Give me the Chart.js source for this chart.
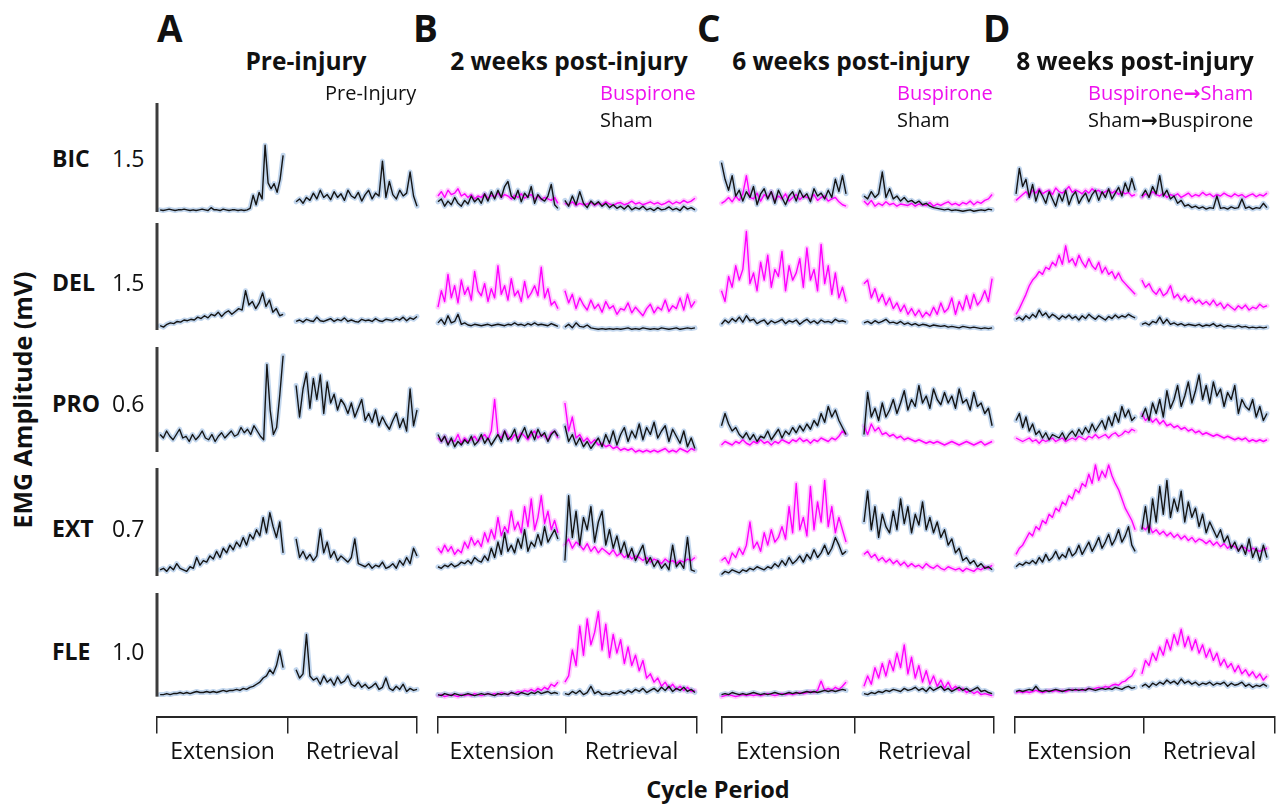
<!DOCTYPE html>
<html>
<head>
<meta charset="utf-8">
<script src="https://cdn.jsdelivr.net/npm/chart.js@4.4.1/dist/chart.umd.min.js"></script>
<style>
  html, body { margin: 0; padding: 0; background: #fff; }
  #fig { position: relative; width: 1281px; height: 807px; overflow: hidden;
         font-family: 'Open Sans', 'Noto Sans', sans-serif; color: #111; }
  #fig canvas { position: absolute; }
  .t { position: absolute; white-space: nowrap; line-height: 1; }
  .arrow { font-family: 'DejaVu Sans', sans-serif; font-weight: 700; }
</style>
</head>
<body>
<div id="fig"></div>
<script>
// ---------- labels ----------
const muscles = ['BIC', 'DEL', 'PRO', 'EXT', 'FLE'];
const scaleValues = [1.5, 1.5, 0.6, 0.7, 1.0];        // mV represented by each scale bar
const scaleLabels = ['1.5', '1.5', '0.6', '0.7', '1.0'];
const panelLetters = ['A', 'B', 'C', 'D'];
const panelTitles = ['Pre-injury', '2 weeks post-injury', '6 weeks post-injury', '8 weeks post-injury'];
const phaseLabels = ['Extension', 'Retrieval'];

// ---------- mean EMG traces (mV), extension then retrieval ----------
// Pre-injury
const pre_BIC_ext = [0.03,0.02,0.03,0.04,0.03,0.02,0.03,0.03,0.04,0.03,0.02,0.03,0.02,0.03,0.04,0.03,0.02,0.06,0.03,0.03,0.02,0.04,0.03,0.02,0.03,0.03,0.02,0.03,0.02,0.03,0.05,0.23,0.1,0.27,0.18,0.92,0.4,0.32,0.39,0.27,0.45,0.78];
const pre_BIC_ret = [0.14,0.18,0.12,0.2,0.16,0.26,0.18,0.3,0.2,0.24,0.17,0.28,0.2,0.25,0.16,0.3,0.22,0.19,0.27,0.15,0.24,0.3,0.18,0.26,0.22,0.7,0.2,0.42,0.24,0.18,0.3,0.22,0.26,0.55,0.22,0.08];
const pre_DEL_ext = [0.06,0.04,0.08,0.1,0.09,0.12,0.11,0.14,0.13,0.15,0.14,0.18,0.16,0.2,0.17,0.22,0.2,0.25,0.19,0.24,0.27,0.22,0.26,0.3,0.28,0.55,0.35,0.4,0.3,0.38,0.52,0.33,0.42,0.25,0.3,0.2,0.22];
const pre_DEL_ret = [0.12,0.14,0.11,0.15,0.13,0.12,0.18,0.13,0.12,0.14,0.16,0.12,0.15,0.13,0.17,0.12,0.14,0.12,0.11,0.15,0.13,0.14,0.12,0.16,0.13,0.12,0.15,0.14,0.13,0.16,0.14,0.18,0.13,0.17,0.15,0.19];
const pre_PRO_ext = [0.1,0.08,0.12,0.09,0.07,0.1,0.13,0.08,0.09,0.06,0.1,0.07,0.09,0.12,0.08,0.07,0.1,0.06,0.09,0.11,0.08,0.1,0.12,0.09,0.1,0.14,0.11,0.13,0.1,0.15,0.12,0.09,0.07,0.5,0.24,0.1,0.14,0.33,0.55];
const pre_PRO_ret = [0.38,0.2,0.36,0.45,0.25,0.42,0.3,0.44,0.22,0.4,0.28,0.33,0.24,0.3,0.27,0.22,0.28,0.2,0.25,0.3,0.18,0.22,0.17,0.24,0.15,0.2,0.16,0.13,0.18,0.22,0.14,0.19,0.12,0.36,0.15,0.24];
const pre_EXT_ext = [0.04,0.05,0.03,0.06,0.04,0.08,0.05,0.04,0.03,0.06,0.05,0.12,0.07,0.1,0.09,0.13,0.11,0.16,0.12,0.18,0.15,0.2,0.17,0.22,0.19,0.25,0.2,0.27,0.24,0.3,0.26,0.38,0.28,0.41,0.32,0.25,0.35,0.15];
const pre_EXT_ret = [0.24,0.12,0.16,0.11,0.14,0.1,0.13,0.3,0.15,0.22,0.12,0.16,0.1,0.13,0.11,0.09,0.12,0.24,0.08,0.07,0.06,0.08,0.05,0.07,0.06,0.09,0.05,0.06,0.08,0.05,0.1,0.07,0.12,0.08,0.18,0.13];
const pre_FLE_ext = [0.02,0.02,0.03,0.02,0.03,0.03,0.04,0.03,0.04,0.03,0.04,0.05,0.04,0.04,0.05,0.04,0.05,0.04,0.05,0.06,0.05,0.06,0.06,0.07,0.06,0.08,0.07,0.09,0.1,0.12,0.14,0.18,0.2,0.26,0.22,0.3,0.44,0.28];
const pre_FLE_ret = [0.26,0.18,0.22,0.6,0.2,0.16,0.18,0.12,0.2,0.14,0.17,0.11,0.19,0.13,0.15,0.2,0.12,0.1,0.14,0.09,0.12,0.08,0.1,0.13,0.07,0.09,0.18,0.08,0.06,0.1,0.07,0.12,0.05,0.08,0.06,0.07];

// 2 weeks post-injury
const wk2Busp_BIC_ext = [0.22,0.28,0.2,0.3,0.24,0.26,0.32,0.22,0.25,0.2,0.24,0.18,0.22,0.2,0.25,0.19,0.23,0.21,0.26,0.2,0.24,0.22,0.18,0.23,0.2,0.25,0.19,0.22,0.24,0.18,0.22,0.17,0.2,0.18,0.16,0.2,0.12];
const wk2Busp_BIC_ret = [0.12,0.1,0.14,0.09,0.12,0.1,0.11,0.13,0.09,0.12,0.1,0.14,0.11,0.09,0.12,0.13,0.1,0.12,0.15,0.11,0.13,0.1,0.12,0.14,0.11,0.13,0.1,0.12,0.15,0.11,0.14,0.12,0.16,0.13,0.15,0.19];
const wk2Sham_BIC_ext = [0.14,0.18,0.08,0.15,0.1,0.2,0.12,0.08,0.16,0.11,0.22,0.14,0.19,0.12,0.25,0.15,0.28,0.18,0.3,0.2,0.35,0.42,0.22,0.18,0.3,0.14,0.26,0.2,0.35,0.12,0.24,0.18,0.15,0.22,0.38,0.1,0.05];
const wk2Sham_BIC_ret = [0.16,0.08,0.22,0.1,0.28,0.12,0.06,0.15,0.1,0.14,0.08,0.12,0.06,0.1,0.05,0.08,0.04,0.09,0.03,0.06,0.04,0.08,0.03,0.05,0.02,0.06,0.03,0.04,0.07,0.03,0.05,0.02,0.08,0.04,0.06,0.03];
const wk2Busp_DEL_ext = [0.32,0.55,0.4,0.78,0.45,0.62,0.38,0.7,0.5,0.6,0.42,0.82,0.55,0.48,0.65,0.4,0.58,0.45,0.9,0.5,0.62,0.42,0.72,0.48,0.55,0.4,0.68,0.45,0.52,0.62,0.48,0.88,0.45,0.58,0.35,0.4,0.3];
const wk2Busp_DEL_ret = [0.55,0.38,0.5,0.3,0.45,0.35,0.28,0.42,0.3,0.36,0.25,0.4,0.3,0.34,0.22,0.3,0.28,0.38,0.24,0.32,0.26,0.2,0.3,0.36,0.24,0.32,0.28,0.42,0.26,0.34,0.3,0.45,0.28,0.5,0.32,0.4];
const wk2Sham_DEL_ext = [0.1,0.15,0.08,0.2,0.1,0.12,0.22,0.08,0.1,0.07,0.06,0.08,0.07,0.06,0.07,0.08,0.06,0.07,0.08,0.07,0.06,0.08,0.07,0.1,0.07,0.08,0.06,0.09,0.07,0.1,0.07,0.08,0.07,0.06,0.09,0.07,0.05];
const wk2Sham_DEL_ret = [0.04,0.08,0.03,0.1,0.05,0.04,0.07,0.03,0.02,0.01,0.02,0.01,0.02,0.01,0.02,0.01,0.02,0.03,0.01,0.02,0.01,0.03,0.02,0.01,0.02,0.01,0.03,0.02,0.01,0.02,0.03,0.01,0.02,0.03,0.02,0.03];
const wk2Busp_PRO_ext = [0.08,0.06,0.09,0.05,0.07,0.06,0.1,0.05,0.08,0.06,0.07,0.09,0.06,0.08,0.1,0.07,0.12,0.3,0.1,0.08,0.12,0.09,0.07,0.1,0.08,0.11,0.09,0.07,0.1,0.12,0.08,0.1,0.09,0.07,0.11,0.12,0.08];
const wk2Busp_PRO_ret = [0.28,0.12,0.2,0.08,0.1,0.06,0.08,0.05,0.07,0.04,0.05,0.03,0.04,0.02,0.03,0.01,0.02,0.01,0.02,0.0,0.01,0.0,0.01,0.0,0.01,0.0,0.01,0.02,0.0,0.01,0.0,0.02,0.01,0.0,0.02,0.01];
const wk2Sham_PRO_ext = [0.1,0.06,0.09,0.04,0.08,0.03,0.06,0.04,0.07,0.05,0.09,0.04,0.06,0.1,0.05,0.08,0.04,0.07,0.1,0.06,0.12,0.07,0.09,0.13,0.06,0.1,0.14,0.08,0.12,0.07,0.13,0.09,0.11,0.06,0.1,0.12,0.09];
const wk2Sham_PRO_ret = [0.15,0.06,0.1,0.04,0.08,0.03,0.06,0.02,0.05,0.08,0.03,0.1,0.05,0.12,0.04,0.1,0.14,0.06,0.12,0.08,0.16,0.07,0.14,0.1,0.17,0.08,0.12,0.15,0.06,0.13,0.09,0.05,0.12,0.03,0.08,0.02];
const wk2Busp_EXT_ext = [0.18,0.15,0.2,0.16,0.19,0.14,0.17,0.15,0.22,0.18,0.25,0.2,0.23,0.19,0.28,0.22,0.3,0.24,0.38,0.26,0.32,0.28,0.42,0.3,0.35,0.28,0.45,0.32,0.5,0.3,0.38,0.52,0.34,0.42,0.3,0.36,0.28];
const wk2Busp_EXT_ret = [0.2,0.24,0.18,0.22,0.2,0.17,0.21,0.16,0.19,0.15,0.18,0.16,0.14,0.17,0.13,0.15,0.12,0.14,0.11,0.13,0.12,0.1,0.12,0.09,0.11,0.1,0.08,0.11,0.09,0.1,0.08,0.1,0.09,0.11,0.1,0.12];
const wk2Sham_EXT_ext = [0.06,0.05,0.07,0.06,0.08,0.06,0.07,0.09,0.08,0.1,0.08,0.12,0.1,0.09,0.13,0.1,0.18,0.12,0.22,0.14,0.28,0.16,0.2,0.15,0.24,0.18,0.3,0.16,0.22,0.19,0.27,0.2,0.32,0.22,0.26,0.3,0.24];
const wk2Sham_EXT_ret = [0.1,0.52,0.25,0.42,0.2,0.38,0.3,0.45,0.22,0.35,0.42,0.2,0.3,0.18,0.26,0.15,0.22,0.12,0.18,0.1,0.15,0.2,0.08,0.12,0.06,0.1,0.05,0.08,0.04,0.2,0.06,0.09,0.05,0.25,0.04,0.03];
const wk2Busp_FLE_ext = [0.01,0.02,0.0,0.01,0.02,0.01,0.0,0.02,0.01,0.02,0.01,0.03,0.02,0.01,0.02,0.03,0.02,0.03,0.02,0.04,0.03,0.02,0.04,0.03,0.05,0.04,0.06,0.05,0.07,0.05,0.08,0.06,0.09,0.07,0.12,0.1,0.14];
const wk2Busp_FLE_ret = [0.14,0.2,0.45,0.3,0.68,0.4,0.75,0.5,0.62,0.82,0.45,0.7,0.38,0.6,0.42,0.55,0.32,0.48,0.3,0.4,0.25,0.35,0.18,0.22,0.14,0.18,0.1,0.14,0.08,0.12,0.07,0.1,0.06,0.09,0.05,0.06];
const wk2Sham_FLE_ext = [0.02,0.01,0.03,0.02,0.01,0.03,0.02,0.01,0.02,0.03,0.02,0.01,0.02,0.03,0.02,0.03,0.02,0.01,0.03,0.02,0.03,0.02,0.04,0.03,0.02,0.04,0.03,0.02,0.04,0.03,0.05,0.03,0.04,0.05,0.03,0.04,0.03];
const wk2Sham_FLE_ret = [0.03,0.02,0.05,0.03,0.06,0.02,0.04,0.1,0.03,0.05,0.02,0.03,0.02,0.04,0.03,0.05,0.03,0.06,0.04,0.07,0.05,0.08,0.04,0.06,0.08,0.05,0.09,0.06,0.1,0.05,0.08,0.06,0.09,0.05,0.07,0.04];

// 6 weeks post-injury
const wk6Busp_BIC_ext = [0.18,0.12,0.15,0.2,0.14,0.22,0.16,0.25,0.5,0.2,0.18,0.26,0.15,0.24,0.2,0.28,0.16,0.22,0.18,0.25,0.15,0.2,0.24,0.17,0.22,0.2,0.18,0.24,0.16,0.2,0.22,0.15,0.18,0.2,0.14,0.1,0.08];
const wk6Busp_BIC_ret = [0.15,0.1,0.16,0.08,0.12,0.09,0.14,0.1,0.12,0.08,0.11,0.1,0.09,0.12,0.08,0.11,0.1,0.09,0.13,0.08,0.11,0.09,0.12,0.14,0.1,0.12,0.09,0.13,0.11,0.15,0.1,0.14,0.12,0.16,0.18,0.24];
const wk6Sham_BIC_ext = [0.2,0.68,0.45,0.3,0.5,0.22,0.3,0.15,0.28,0.2,0.35,0.1,0.25,0.32,0.18,0.28,0.12,0.3,0.2,0.1,0.22,0.28,0.15,0.3,0.2,0.25,0.14,0.32,0.22,0.26,0.18,0.3,0.2,0.45,0.28,0.5,0.25];
const wk6Sham_BIC_ret = [0.22,0.18,0.28,0.2,0.25,0.55,0.2,0.32,0.18,0.22,0.15,0.2,0.14,0.16,0.12,0.15,0.1,0.12,0.08,0.06,0.05,0.04,0.03,0.04,0.02,0.03,0.02,0.01,0.02,0.03,0.01,0.02,0.03,0.02,0.04,0.03];
const wk6Busp_DEL_ext = [0.25,0.55,0.4,0.75,0.6,0.9,0.7,0.85,1.38,0.65,0.8,0.55,0.95,0.7,1.05,0.6,0.85,0.75,1.1,0.55,0.9,0.7,0.8,1.0,0.6,1.15,0.7,0.85,0.55,1.2,0.65,0.9,0.5,0.8,0.45,0.6,0.4];
const wk6Busp_DEL_ret = [0.65,0.7,0.45,0.58,0.4,0.5,0.35,0.45,0.3,0.38,0.26,0.35,0.22,0.3,0.2,0.28,0.18,0.25,0.2,0.32,0.22,0.38,0.25,0.3,0.45,0.22,0.4,0.28,0.48,0.3,0.5,0.35,0.42,0.55,0.4,0.72];
const wk6Sham_DEL_ext = [0.12,0.08,0.14,0.1,0.16,0.12,0.18,0.11,0.2,0.13,0.15,0.09,0.12,0.14,0.08,0.13,0.1,0.12,0.15,0.09,0.13,0.11,0.14,0.08,0.12,0.15,0.1,0.13,0.09,0.14,0.11,0.12,0.1,0.15,0.12,0.13,0.11];
const wk6Sham_DEL_ret = [0.1,0.12,0.09,0.13,0.1,0.12,0.15,0.1,0.11,0.09,0.12,0.08,0.1,0.07,0.09,0.06,0.08,0.07,0.05,0.07,0.06,0.05,0.06,0.04,0.05,0.04,0.03,0.05,0.04,0.03,0.04,0.03,0.02,0.03,0.02,0.03];
const wk6Busp_PRO_ext = [0.05,0.04,0.06,0.05,0.04,0.06,0.05,0.07,0.05,0.04,0.06,0.05,0.07,0.05,0.06,0.04,0.06,0.05,0.07,0.06,0.05,0.07,0.06,0.08,0.06,0.07,0.05,0.07,0.06,0.08,0.07,0.06,0.08,0.07,0.09,0.12,0.1];
const wk6Busp_PRO_ret = [0.15,0.1,0.16,0.12,0.14,0.1,0.11,0.09,0.1,0.08,0.09,0.07,0.08,0.07,0.06,0.07,0.06,0.05,0.06,0.05,0.06,0.05,0.04,0.05,0.06,0.05,0.04,0.05,0.06,0.05,0.04,0.05,0.06,0.04,0.05,0.06];
const wk6Sham_PRO_ext = [0.2,0.15,0.22,0.16,0.12,0.14,0.1,0.08,0.11,0.07,0.1,0.06,0.09,0.08,0.12,0.07,0.1,0.13,0.08,0.12,0.1,0.14,0.11,0.15,0.12,0.16,0.13,0.18,0.15,0.22,0.17,0.26,0.2,0.24,0.18,0.14,0.1];
const wk6Sham_PRO_ret = [0.1,0.34,0.2,0.25,0.18,0.28,0.2,0.24,0.3,0.22,0.28,0.35,0.24,0.3,0.26,0.38,0.28,0.32,0.25,0.36,0.3,0.27,0.34,0.28,0.32,0.25,0.36,0.28,0.3,0.24,0.34,0.26,0.28,0.22,0.25,0.15];
const wk6Busp_EXT_ext = [0.04,0.1,0.12,0.08,0.15,0.12,0.18,0.14,0.2,0.35,0.18,0.22,0.16,0.28,0.2,0.3,0.22,0.25,0.32,0.24,0.45,0.28,0.6,0.3,0.38,0.26,0.58,0.3,0.48,0.35,0.62,0.32,0.45,0.28,0.38,0.3,0.22];
const wk6Busp_EXT_ret = [0.14,0.16,0.12,0.14,0.1,0.12,0.09,0.11,0.08,0.1,0.07,0.09,0.06,0.08,0.06,0.07,0.05,0.08,0.06,0.05,0.07,0.05,0.04,0.06,0.05,0.04,0.05,0.03,0.05,0.04,0.03,0.05,0.04,0.06,0.05,0.07];
const wk6Sham_EXT_ext = [0.02,0.01,0.03,0.02,0.04,0.03,0.02,0.04,0.03,0.05,0.04,0.06,0.05,0.04,0.06,0.05,0.08,0.06,0.1,0.07,0.12,0.08,0.1,0.13,0.09,0.14,0.11,0.17,0.12,0.15,0.2,0.14,0.18,0.25,0.2,0.14,0.16];
const wk6Sham_EXT_ret = [0.35,0.55,0.3,0.45,0.25,0.4,0.32,0.28,0.42,0.3,0.5,0.34,0.45,0.28,0.4,0.33,0.48,0.3,0.38,0.28,0.35,0.25,0.3,0.2,0.24,0.15,0.18,0.1,0.12,0.08,0.1,0.06,0.08,0.05,0.06,0.04];
const wk6Busp_FLE_ext = [0.01,0.0,0.01,0.02,0.01,0.0,0.01,0.02,0.01,0.02,0.01,0.02,0.01,0.02,0.03,0.02,0.01,0.02,0.03,0.02,0.03,0.02,0.03,0.04,0.03,0.04,0.05,0.04,0.06,0.15,0.06,0.08,0.06,0.09,0.07,0.1,0.14];
const wk6Busp_FLE_ret = [0.1,0.2,0.12,0.28,0.18,0.32,0.2,0.35,0.25,0.42,0.28,0.5,0.22,0.38,0.18,0.3,0.14,0.25,0.12,0.2,0.1,0.16,0.08,0.14,0.07,0.1,0.06,0.08,0.04,0.06,0.03,0.05,0.02,0.03,0.02,0.01];
const wk6Sham_FLE_ext = [0.03,0.02,0.03,0.02,0.04,0.03,0.02,0.03,0.02,0.03,0.04,0.03,0.02,0.03,0.02,0.03,0.04,0.03,0.02,0.03,0.04,0.03,0.04,0.03,0.04,0.05,0.04,0.05,0.04,0.05,0.06,0.05,0.06,0.05,0.06,0.07,0.06];
const wk6Sham_FLE_ret = [0.03,0.02,0.04,0.03,0.05,0.04,0.06,0.05,0.07,0.06,0.05,0.08,0.06,0.07,0.09,0.06,0.08,0.05,0.09,0.06,0.08,0.1,0.06,0.08,0.05,0.07,0.09,0.06,0.08,0.05,0.07,0.09,0.05,0.06,0.04,0.03];

// 8 weeks post-injury (groups crossed over)
const wk8BuspSham_BIC_ext = [0.16,0.2,0.24,0.28,0.22,0.3,0.26,0.32,0.25,0.28,0.3,0.24,0.33,0.28,0.26,0.3,0.35,0.27,0.3,0.28,0.25,0.3,0.26,0.32,0.28,0.3,0.25,0.28,0.3,0.26,0.29,0.24,0.28,0.25,0.27,0.22,0.24];
const wk8BuspSham_BIC_ret = [0.2,0.25,0.22,0.28,0.24,0.22,0.26,0.2,0.24,0.22,0.25,0.2,0.23,0.26,0.21,0.24,0.22,0.27,0.23,0.25,0.21,0.24,0.22,0.26,0.23,0.21,0.25,0.22,0.24,0.2,0.23,0.25,0.21,0.24,0.22,0.26];
const wk8ShamBusp_BIC_ext = [0.25,0.6,0.35,0.45,0.2,0.38,0.15,0.3,0.22,0.12,0.28,0.18,0.08,0.25,0.15,0.3,0.1,0.22,0.28,0.12,0.2,0.26,0.14,0.24,0.3,0.16,0.28,0.2,0.32,0.18,0.26,0.34,0.22,0.4,0.28,0.46,0.3];
const wk8ShamBusp_BIC_ret = [0.22,0.3,0.2,0.35,0.25,0.5,0.22,0.3,0.18,0.22,0.12,0.16,0.08,0.1,0.06,0.08,0.05,0.07,0.04,0.06,0.05,0.22,0.05,0.06,0.04,0.07,0.05,0.06,0.18,0.05,0.07,0.04,0.06,0.05,0.12,0.06];
const wk8BuspSham_DEL_ext = [0.22,0.3,0.4,0.5,0.62,0.7,0.75,0.82,0.78,0.88,0.85,0.95,0.9,1.05,0.92,1.18,0.95,1.0,0.9,1.05,0.95,0.88,1.0,0.9,0.85,0.95,0.8,0.88,0.78,0.82,0.72,0.8,0.7,0.65,0.6,0.55,0.5];
const wk8BuspSham_DEL_ret = [0.7,0.6,0.65,0.55,0.5,0.58,0.48,0.52,0.62,0.45,0.5,0.42,0.48,0.4,0.45,0.38,0.42,0.36,0.4,0.35,0.42,0.34,0.38,0.3,0.36,0.32,0.28,0.34,0.3,0.35,0.28,0.32,0.3,0.36,0.32,0.34];
const wk8ShamBusp_DEL_ext = [0.15,0.18,0.14,0.2,0.16,0.22,0.18,0.28,0.2,0.24,0.17,0.22,0.19,0.15,0.2,0.17,0.21,0.16,0.19,0.14,0.2,0.16,0.22,0.18,0.15,0.2,0.17,0.14,0.19,0.16,0.21,0.17,0.2,0.18,0.22,0.19,0.17];
const wk8ShamBusp_DEL_ret = [0.08,0.1,0.07,0.12,0.1,0.18,0.09,0.15,0.08,0.1,0.07,0.09,0.06,0.08,0.07,0.06,0.08,0.05,0.07,0.06,0.09,0.05,0.07,0.04,0.06,0.05,0.04,0.06,0.04,0.05,0.03,0.04,0.03,0.04,0.03,0.04];
const wk8BuspSham_PRO_ext = [0.08,0.07,0.06,0.07,0.08,0.06,0.07,0.05,0.07,0.06,0.07,0.08,0.06,0.07,0.08,0.06,0.07,0.08,0.07,0.09,0.08,0.07,0.09,0.08,0.1,0.08,0.09,0.1,0.08,0.1,0.11,0.09,0.1,0.12,0.11,0.13,0.12];
const wk8BuspSham_PRO_ret = [0.22,0.18,0.2,0.17,0.19,0.16,0.18,0.15,0.16,0.14,0.15,0.13,0.14,0.12,0.13,0.11,0.12,0.1,0.11,0.1,0.09,0.1,0.09,0.08,0.09,0.08,0.07,0.08,0.07,0.08,0.06,0.07,0.06,0.07,0.06,0.07];
const wk8ShamBusp_PRO_ext = [0.18,0.22,0.14,0.2,0.12,0.16,0.1,0.12,0.08,0.11,0.07,0.1,0.09,0.08,0.11,0.07,0.1,0.12,0.09,0.13,0.1,0.14,0.11,0.16,0.12,0.15,0.18,0.13,0.2,0.15,0.22,0.17,0.26,0.2,0.24,0.18,0.2];
const wk8ShamBusp_PRO_ret = [0.2,0.25,0.18,0.28,0.22,0.3,0.2,0.35,0.25,0.3,0.38,0.26,0.32,0.4,0.28,0.35,0.44,0.3,0.38,0.28,0.4,0.32,0.36,0.26,0.34,0.3,0.38,0.22,0.3,0.26,0.24,0.3,0.2,0.26,0.18,0.22];
const wk8BuspSham_EXT_ext = [0.14,0.18,0.2,0.24,0.28,0.26,0.32,0.3,0.36,0.34,0.4,0.38,0.44,0.42,0.48,0.46,0.52,0.5,0.56,0.54,0.6,0.58,0.66,0.6,0.72,0.62,0.68,0.64,0.72,0.65,0.6,0.56,0.5,0.44,0.4,0.36,0.3];
const wk8BuspSham_EXT_ret = [0.32,0.3,0.33,0.28,0.3,0.27,0.29,0.26,0.28,0.25,0.27,0.24,0.26,0.23,0.25,0.22,0.24,0.23,0.21,0.23,0.2,0.22,0.19,0.21,0.18,0.2,0.19,0.17,0.19,0.18,0.16,0.18,0.17,0.16,0.17,0.18];
const wk8ShamBusp_EXT_ext = [0.06,0.08,0.07,0.09,0.08,0.1,0.08,0.12,0.09,0.14,0.1,0.12,0.16,0.11,0.14,0.12,0.18,0.13,0.15,0.2,0.14,0.18,0.22,0.16,0.2,0.25,0.18,0.22,0.27,0.2,0.24,0.3,0.22,0.26,0.32,0.2,0.16];
const wk8ShamBusp_EXT_ret = [0.3,0.45,0.28,0.5,0.35,0.58,0.4,0.62,0.38,0.5,0.42,0.55,0.35,0.48,0.38,0.44,0.32,0.4,0.28,0.35,0.3,0.25,0.3,0.22,0.26,0.18,0.22,0.16,0.2,0.14,0.24,0.12,0.18,0.1,0.2,0.12];
const wk8BuspSham_FLE_ext = [0.04,0.05,0.04,0.05,0.04,0.05,0.06,0.05,0.04,0.05,0.06,0.05,0.06,0.05,0.06,0.05,0.06,0.07,0.06,0.07,0.06,0.07,0.08,0.07,0.08,0.09,0.08,0.1,0.09,0.11,0.12,0.11,0.14,0.15,0.18,0.2,0.26];
const wk8BuspSham_FLE_ret = [0.22,0.35,0.3,0.42,0.35,0.48,0.4,0.55,0.45,0.6,0.5,0.65,0.48,0.58,0.45,0.55,0.42,0.5,0.38,0.46,0.35,0.42,0.3,0.36,0.28,0.32,0.24,0.3,0.22,0.26,0.2,0.24,0.18,0.22,0.16,0.2];
const wk8ShamBusp_FLE_ext = [0.05,0.06,0.05,0.06,0.07,0.06,0.1,0.06,0.05,0.06,0.05,0.06,0.07,0.06,0.05,0.06,0.07,0.06,0.07,0.06,0.07,0.06,0.08,0.07,0.06,0.07,0.08,0.07,0.08,0.07,0.09,0.08,0.07,0.09,0.1,0.08,0.09];
const wk8ShamBusp_FLE_ret = [0.1,0.12,0.09,0.13,0.11,0.14,0.12,0.16,0.13,0.15,0.12,0.17,0.13,0.15,0.12,0.14,0.11,0.13,0.12,0.14,0.11,0.13,0.12,0.14,0.1,0.13,0.11,0.12,0.14,0.1,0.12,0.09,0.11,0.1,0.12,0.1];

// ---------- styling ----------
const BLACK = '#151515';
const MAGENTA = '#ff00ff';
const BLUE_BAND = 'rgba(120,165,215,0.45)';
const PINK_BAND = 'rgba(255,90,255,0.30)';
const FONT = "'Open Sans', 'Noto Sans', sans-serif";

// ---------- trace table built from the arrays above ----------
const magentaGroup = (label, rows) => ({ label, color: MAGENTA, band: PINK_BAND, rows });
const blackGroup = (label, rows) => ({ label, color: BLACK, band: BLUE_BAND, rows });
const columnGroups = [
  [blackGroup('Pre-Injury', [[pre_BIC_ext, pre_BIC_ret], [pre_DEL_ext, pre_DEL_ret], [pre_PRO_ext, pre_PRO_ret], [pre_EXT_ext, pre_EXT_ret], [pre_FLE_ext, pre_FLE_ret]])],
  [magentaGroup('Buspirone', [[wk2Busp_BIC_ext, wk2Busp_BIC_ret], [wk2Busp_DEL_ext, wk2Busp_DEL_ret], [wk2Busp_PRO_ext, wk2Busp_PRO_ret], [wk2Busp_EXT_ext, wk2Busp_EXT_ret], [wk2Busp_FLE_ext, wk2Busp_FLE_ret]]),
   blackGroup('Sham', [[wk2Sham_BIC_ext, wk2Sham_BIC_ret], [wk2Sham_DEL_ext, wk2Sham_DEL_ret], [wk2Sham_PRO_ext, wk2Sham_PRO_ret], [wk2Sham_EXT_ext, wk2Sham_EXT_ret], [wk2Sham_FLE_ext, wk2Sham_FLE_ret]])],
  [magentaGroup('Buspirone', [[wk6Busp_BIC_ext, wk6Busp_BIC_ret], [wk6Busp_DEL_ext, wk6Busp_DEL_ret], [wk6Busp_PRO_ext, wk6Busp_PRO_ret], [wk6Busp_EXT_ext, wk6Busp_EXT_ret], [wk6Busp_FLE_ext, wk6Busp_FLE_ret]]),
   blackGroup('Sham', [[wk6Sham_BIC_ext, wk6Sham_BIC_ret], [wk6Sham_DEL_ext, wk6Sham_DEL_ret], [wk6Sham_PRO_ext, wk6Sham_PRO_ret], [wk6Sham_EXT_ext, wk6Sham_EXT_ret], [wk6Sham_FLE_ext, wk6Sham_FLE_ret]])],
  [magentaGroup('Buspirone→Sham', [[wk8BuspSham_BIC_ext, wk8BuspSham_BIC_ret], [wk8BuspSham_DEL_ext, wk8BuspSham_DEL_ret], [wk8BuspSham_PRO_ext, wk8BuspSham_PRO_ret], [wk8BuspSham_EXT_ext, wk8BuspSham_EXT_ret], [wk8BuspSham_FLE_ext, wk8BuspSham_FLE_ret]]),
   blackGroup('Sham→Buspirone', [[wk8ShamBusp_BIC_ext, wk8ShamBusp_BIC_ret], [wk8ShamBusp_DEL_ext, wk8ShamBusp_DEL_ret], [wk8ShamBusp_PRO_ext, wk8ShamBusp_PRO_ret], [wk8ShamBusp_EXT_ext, wk8ShamBusp_EXT_ret], [wk8ShamBusp_FLE_ext, wk8ShamBusp_FLE_ret]])]
];

// ---------- page layout (pixels) ----------
const COL_X = [[157, 417], [438, 697], [722, 994], [1015, 1275]];          // plot area left/right per column
const ROW_Y = [[103, 212], [223, 330], [347, 452], [468, 576], [593, 703]]; // scale-bar top/bottom per row
const BRACKET_Y = 725;
// where each phase sits along the cycle axis (0-100) in each column
const PHASE_SPAN = [
  { ext: [1.2, 48.5], ret: [53.5, 100], mid: 50.4 },
  { ext: [0, 46.3], ret: [49.0, 99.2], mid: 49.4 },
  { ext: [-1.5, 45.6], ret: [52.2, 99.3], mid: 48.9 },
  { ext: [0.4, 46.2], ret: [48.8, 96.9], mid: 49.6 }
];
const ROW_LABEL_Y = [158, 282, 403, 528, 651];
const LEGEND_X = [325, 600, 897, 1088];
const TITLE_CX = [306, 569, 851, 1135];
const LETTER_X = [157, 413, 697, 983];

const fig = document.getElementById('fig');
Chart.defaults.font.family = FONT;

function addText(html, x, cy, o = {}) {
  const d = document.createElement('div');
  d.className = 't';
  d.innerHTML = html;
  d.style.left = x + 'px';
  d.style.top = cy + 'px';
  d.style.fontSize = (o.size || 20) + 'px';
  d.style.fontWeight = o.weight || 400;
  d.style.color = o.color || '#111';
  const tx = o.align === 'center' ? '-50%' : (o.align === 'right' ? '-100%' : '0');
  d.style.transform = `translate(${tx}, -50%)` + (o.rotate ? ` rotate(${o.rotate}deg)` : '');
  fig.appendChild(d);
  return d;
}

// scale bar drawn against the row's own y scale
const scaleBarPlugin = {
  id: 'scaleBar',
  afterDatasetsDraw(chart, args, opts) {
    if (!opts.show) return;
    const y = chart.scales.y;
    const ctx = chart.ctx;
    ctx.save();
    ctx.strokeStyle = '#3c3c3c';
    ctx.lineWidth = 3;
    ctx.beginPath();
    ctx.moveTo(chart.chartArea.left, y.getPixelForValue(0));
    ctx.lineTo(chart.chartArea.left, y.getPixelForValue(opts.value));
    ctx.stroke();
    ctx.restore();
  }
};

function phasePoints(values, span) {
  const [a, b] = span;
  return values.map((v, i) => ({ x: a + (b - a) * i / (values.length - 1), y: v }));
}

function makeCell(c, r) {
  const [x0, x1] = COL_X[c];
  const [b0, b1] = ROW_Y[r];
  const bottomRow = r === muscles.length - 1;
  const pad = { left: 12, right: 12, top: 26, bottom: bottomRow ? 2 : 26 };
  const areaBottom = bottomRow ? BRACKET_Y : b1;
  const tickFont = 23;
  const tickPad = -3;
  const axesH = bottomRow ? 16 + tickFont * 1.2 + 2 * tickPad : 0;
  const w = x1 - x0 + pad.left + pad.right;
  const h = Math.round(areaBottom - b0 + pad.top + pad.bottom + axesH);
  const canvas = document.createElement('canvas');
  canvas.width = w; canvas.height = h;
  canvas.style.left = (x0 - pad.left) + 'px';
  canvas.style.top = (b0 - pad.top) + 'px';
  canvas.style.width = w + 'px'; canvas.style.height = h + 'px';
  fig.appendChild(canvas);

  const unitsPerPx = scaleValues[r] / (b1 - b0);
  const span = PHASE_SPAN[c];
  const datasets = [];
  const groups = columnGroups[c];
  // black traces sit on top of magenta ones; bands sit underneath both
  groups.forEach(g => {
    const top = g.color === BLACK ? 0 : 1;
    [['ext', 0], ['ret', 1]].forEach(([ph, k]) => {
      const pts = phasePoints(g.rows[r][k], span[ph]);
      datasets.push({ data: pts, borderColor: g.color, borderWidth: 1.4, order: top,
                      pointRadius: 0, tension: 0, clip: false, borderJoinStyle: 'round' });
      datasets.push({ data: pts, borderColor: g.band, borderWidth: 5, order: 2 + top,
                      pointRadius: 0, tension: 0, clip: false, borderJoinStyle: 'round', borderCapStyle: 'round' });
    });
  });

  const scales = {
    x: {
      type: 'linear', min: 0, max: 100, display: bottomRow, weight: 0,
      afterBuildTicks: s => { s.ticks = [0, span.mid, 100].map(v => ({ value: v })); },
      ticks: { display: false },
      grid: { display: true, drawOnChartArea: false, drawTicks: true, tickLength: 16, color: '#262626', lineWidth: 1.5 },
      border: { display: true, color: '#262626', width: 2 }
    },
    y: { type: 'linear', display: false, min: -(areaBottom - b1) * unitsPerPx, max: scaleValues[r] }
  };
  if (bottomRow) {
    scales.x2 = {
      type: 'linear', axis: 'x', position: 'bottom', min: 0, max: 100, weight: 1,
      afterBuildTicks: s => { s.ticks = [span.mid / 2, (span.mid + 100) / 2].map(v => ({ value: v })); },
      ticks: { display: true, autoSkip: false, maxRotation: 0, padding: tickPad, color: '#111',
               font: { size: tickFont, family: FONT }, callback: (v, i) => phaseLabels[i] },
      grid: { display: false },
      border: { display: false }
    };
  }

  new Chart(canvas, {
    type: 'line',
    data: { datasets },
    options: {
      responsive: false, animation: false, events: [], devicePixelRatio: 1,
      layout: { padding: pad },
      plugins: { legend: { display: false }, tooltip: { enabled: false },
                 scaleBar: { show: c === 0, value: scaleValues[r] } },
      scales
    },
    plugins: [scaleBarPlugin]
  });
}

for (let c = 0; c < panelLetters.length; c++) {
  for (let r = 0; r < muscles.length; r++) makeCell(c, r);
}

// ---------- text ----------
panelLetters.forEach((L, c) => addText(L, LETTER_X[c], 27, { size: 37, weight: 700 }));
panelTitles.forEach((t, c) => addText(t, TITLE_CX[c], 61, { size: 24.5, weight: 700, align: 'center' }));
columnGroups.forEach((groups, c) => {
  groups.forEach((g, gi) => {
    const y = groups.length === 1 ? 93 : 93 + gi * 27;
    const html = g.label.replace('→', '<span class="arrow">→</span>');
    addText(html, LEGEND_X[c], y, { size: 20, color: g.color === MAGENTA ? '#ee11ee' : '#111' });
  });
});
muscles.forEach((m, r) => {
  addText(m, 52, ROW_LABEL_Y[r], { size: 23, weight: 700 });
  addText(scaleLabels[r], 112, ROW_LABEL_Y[r], { size: 23 });
});
addText('EMG Amplitude (mV)', 22, 400, { size: 25, weight: 700, align: 'center', rotate: -90 });
addText('Cycle Period', 718, 790, { size: 23.5, weight: 700, align: 'center' });
</script>
</body>
</html>
